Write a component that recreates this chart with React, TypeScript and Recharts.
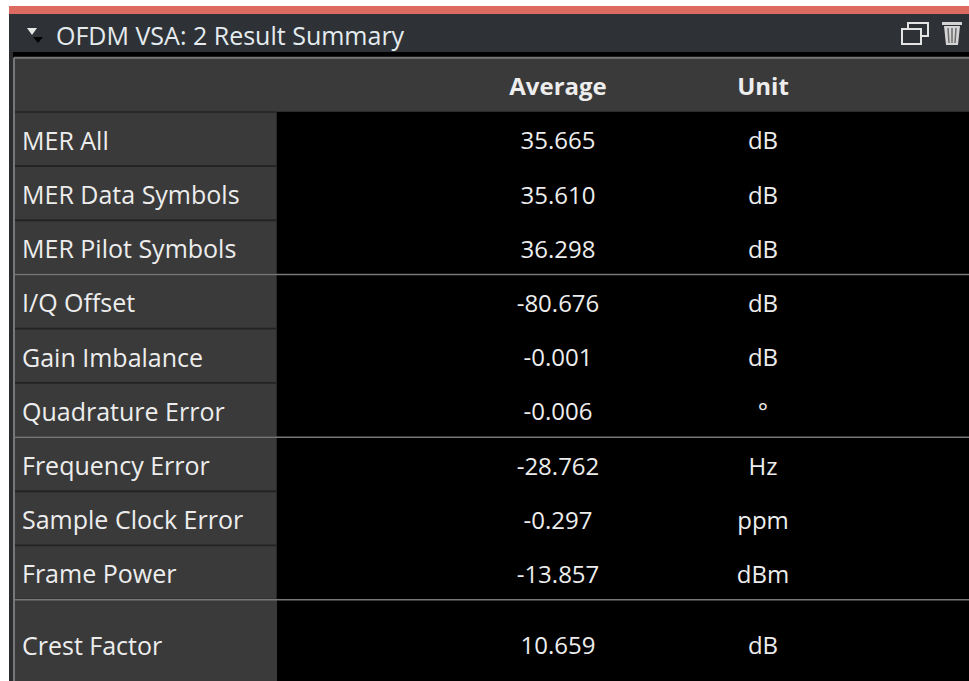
import { Bar, BarChart, Cell, LabelList, ReferenceLine, XAxis, YAxis } from "recharts";

const HEADER_ROW = " ";
const FILLER_ROW = "  ";

const metricNames = [
  "MER All",
  "MER Data Symbols",
  "MER Pilot Symbols",
  "I/Q Offset",
  "Gain Imbalance",
  "Quadrature Error",
  "Frequency Error",
  "Sample Clock Error",
  "Frame Power",
  "Crest Factor",
];
const averageValues = [35.665, 35.61, 36.298, -80.676, -0.001, -0.006, -28.762, -0.297, -13.857, 10.659];
const unitValues = ["dB", "dB", "dB", "dB", "dB", "°", "Hz", "ppm", "dBm", "dB"];
const groupStarts = ["I/Q Offset", "Frequency Error", "Crest Factor"];

const FONT = "'Open Sans', 'Noto Sans', sans-serif";
const PANEL = "#3a3a3a";
const RULE = "#777777";

// column widths on the hidden x axis
const tableRows = [
  { metric: HEADER_ROW, average: "Average", unit: "Unit" },
  ...metricNames.map((metric, i) => ({
    metric,
    average: averageValues[i].toFixed(3),
    unit: unitValues[i],
  })),
  { metric: FILLER_ROW, average: "", unit: "" },
].map((row) => ({ ...row, nameCol: 263, gapCol: 181, avgCol: 200, unitCol: 210, restCol: 101 }));

const lastRow = tableRows.length - 1;

// Crest Factor sits in a taller row that runs off the bottom of the panel
function rowShift(index: number) {
  return index === lastRow - 1 ? 19 : 2;
}

function CellText({ x, y, width, height, value, index }: any) {
  return (
    <text
      x={x + width / 2}
      y={y + height / 2 + rowShift(index)}
      dy="0.35em"
      textAnchor="middle"
      fontFamily={FONT}
      fontSize={24}
      fontWeight={index === 0 ? 700 : 400}
      fill="#ededed"
    >
      {value}
    </text>
  );
}

function MetricTick({ x, y, payload, index }: any) {
  return (
    <text x={x + 14} y={y + rowShift(index)} dy="0.35em" fontFamily={FONT} fontSize={25} fill="#ededed">
      {payload.value}
    </text>
  );
}

function TitleBar() {
  return (
    <div style={{ position: "absolute", left: 9, top: 6, width: 960, height: 46 }}>
      <div style={{ height: 8, background: "#dd6a60" }} />
      <div
        style={{
          height: 38,
          background: "#2e3236",
          color: "#e4ebef",
          fontFamily: FONT,
          fontSize: 25,
          lineHeight: "43px",
          paddingLeft: 47,
          whiteSpace: "nowrap",
        }}
      >
        OFDM VSA: 2 Result Summary
      </div>
      <svg width={960} height={38} style={{ position: "absolute", left: 0, top: 8 }}>
        <path d="M18 14 L28 14 L23 21 Z" fill="#e8e8e8" />
        <path d="M24 23 L34 23 L29 29 Z" fill="#000000" />
        <rect x={893} y={15} width={19} height={15} fill="none" stroke="#e4e4e4" strokeWidth={2} />
        <path d="M899 14 V9 H919 V22 H912" fill="none" stroke="#e4e4e4" strokeWidth={2} />
        <path d="M933 8 H953 V11 H933 Z M935 12 H951 L949 31 H937 Z" fill="#d4d4d4" />
        <path d="M939 14 L940 29 M943 14 V29 M947 14 L946 29" stroke="#6c6c6c" strokeWidth={1.5} />
      </svg>
    </div>
  );
}

function nameCellStroke(index: number) {
  if (index === 0 || index >= lastRow - 1) return PANEL;
  return "#232323";
}

export default function App() {
  return (
    <div style={{ position: "absolute", left: 0, top: 0, width: 969, height: 681, background: "#ffffff", overflow: "hidden" }}>
      <div style={{ position: "absolute", left: 9, top: 52, width: 960, height: 629, background: "#2b2c2e" }} />
      <TitleBar />
      <div style={{ position: "absolute", left: 13, top: 52, background: "#000000" }}>
        <BarChart
          width={956}
          height={629}
          data={tableRows}
          layout="vertical"
          barCategoryGap={0}
          margin={{ top: 5.8, right: 0, bottom: -27.2, left: 0 }}
        >
          <XAxis type="number" domain={[0, 955]} hide />
          <YAxis
            type="category"
            dataKey="metric"
            width={1}
            interval={0}
            tickLine={false}
            tickMargin={0}
            axisLine={{ stroke: RULE, strokeWidth: 2 }}
            tick={<MetricTick />}
          />
          <Bar dataKey="nameCol" stackId="row" fill={PANEL} isAnimationActive={false}>
            {tableRows.map((row, i) => (
              <Cell key={row.metric} stroke={nameCellStroke(i)} strokeWidth={1.5} />
            ))}
          </Bar>
          <Bar dataKey="gapCol" stackId="row" fill="#000000" isAnimationActive={false}>
            {tableRows.map((row, i) => (
              <Cell key={row.metric} fill={i === 0 ? PANEL : "#000000"} />
            ))}
          </Bar>
          <Bar dataKey="avgCol" stackId="row" fill="#000000" isAnimationActive={false}>
            {tableRows.map((row, i) => (
              <Cell key={row.metric} fill={i === 0 ? PANEL : "#000000"} />
            ))}
            <LabelList dataKey="average" content={CellText} />
          </Bar>
          <Bar dataKey="unitCol" stackId="row" fill="#000000" isAnimationActive={false}>
            {tableRows.map((row, i) => (
              <Cell key={row.metric} fill={i === 0 ? PANEL : "#000000"} />
            ))}
            <LabelList dataKey="unit" content={CellText} />
          </Bar>
          <Bar dataKey="restCol" stackId="row" fill="#000000" isAnimationActive={false}>
            {tableRows.map((row, i) => (
              <Cell key={row.metric} fill={i === 0 ? PANEL : "#000000"} />
            ))}
          </Bar>
          <ReferenceLine y={HEADER_ROW} position="start" stroke={RULE} strokeWidth={2} isFront />
          {groupStarts.map((name) => (
            <ReferenceLine key={name} y={name} position="start" stroke={RULE} strokeWidth={1.5} isFront />
          ))}
        </BarChart>
      </div>
    </div>
  );
}
